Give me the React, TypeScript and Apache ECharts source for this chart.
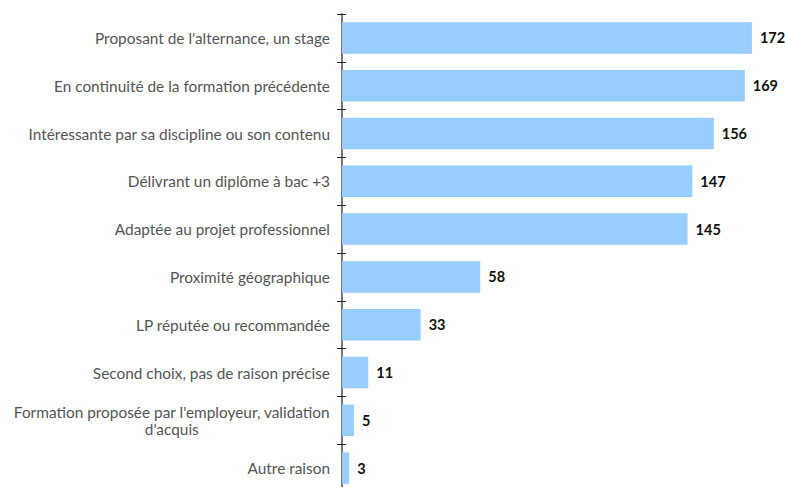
import React, { useEffect, useRef } from "react";
import * as echarts from "echarts";

const categories = [
  "Proposant de l'alternance, un stage",
  "En continuité de la formation précédente",
  "Intéressante par sa discipline ou son contenu",
  "Délivrant un diplôme à bac +3",
  "Adaptée au projet professionnel",
  "Proximité géographique",
  "LP réputée ou recommandée",
  "Second choix, pas de raison précise",
  "Formation proposée par l'employeur, validation\nd'acquis",
  "Autre raison",
];
const values = [172, 169, 156, 147, 145, 58, 33, 11, 5, 3];

const FONT = "Lato, 'Noto Sans', sans-serif";
const LABEL_SIZE = 15.4;

export default function App() {
  const ref = useRef<HTMLDivElement>(null);
  useEffect(() => {
    document.body.style.margin = "0";
    const chart = echarts.init(ref.current!, null, { renderer: "svg" });
    chart.setOption({
      animation: false,
      grid: {
        left: 342,
        width: 429,
        top: 14,
        height: 478,
        containLabel: false,
        outerBoundsMode: "none",
      },
      xAxis: {
        type: "value",
        min: 0,
        max: 180,
        show: false,
      },
      yAxis: [
        {
          type: "category",
          data: categories,
          inverse: true,
          axisLine: { show: true, lineStyle: { color: "#777", width: 2 } },
          axisTick: { show: true, length: 5, lineStyle: { color: "#222", width: 1 } },
          axisLabel: {
            margin: 12,
            color: "#555",
            fontSize: LABEL_SIZE,
            fontFamily: FONT,
            lineHeight: 17,
            formatter: (v: string) =>
              v.indexOf("\n") >= 0
                ? v.split("\n").map((s) => `{c|${s}}`).join("\n")
                : v,
            rich: {
              c: { align: "center", color: "#555", fontSize: LABEL_SIZE, fontFamily: FONT, lineHeight: 17 },
            },
          },
        },
        {
          type: "category",
          data: categories,
          inverse: true,
          position: "left",
          axisLine: { show: false },
          axisTick: { show: true, inside: true, length: 4, lineStyle: { color: "#222", width: 1 } },
          axisLabel: { show: false },
        },
      ],
      series: [
        {
          type: "bar",
          data: values,
          barCategoryGap: "34%",
          itemStyle: { color: "#99CCFF" },
          label: {
            show: true,
            position: "right",
            distance: 8,
            color: "#111",
            fontSize: 14.5,
            fontWeight: "bold",
            fontFamily: FONT,
          },
        },
      ],
    });
    return () => chart.dispose();
  }, []);
  return <div ref={ref} style={{ width: 785, height: 487 }} />;
}
